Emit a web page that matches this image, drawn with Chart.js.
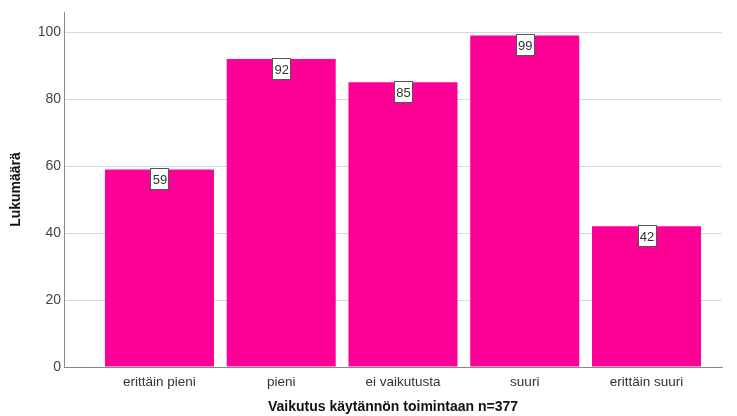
<!DOCTYPE html>
<html><head><meta charset="utf-8">
<script src="https://cdn.jsdelivr.net/npm/chart.js@4"></script>
<style>html,body{margin:0;padding:0;background:#fff}#c{display:block}</style>
</head><body>
<canvas id="c" width="737" height="416"></canvas>
<script>
const categories = ["erittäin pieni","pieni","ei vaikutusta","suuri","erittäin suuri"];
const counts = [59, 92, 85, 99, 42];
const yTicks = [0, 20, 40, 60, 80, 100];
const xTitle = "Vaikutus käytännön toimintaan n=377";
const yTitle = "Lukumäärä";

const FONT = "'Liberation Sans', Arial, sans-serif";
const points = counts.map((v,i)=>({x:i,y:v}));

const labelPlugin = {
  id:'boxLabels',
  afterDatasetsDraw(chart){
    const ctx = chart.ctx;
    const meta = chart.getDatasetMeta(0);
    ctx.save();
    ctx.font = "13px " + FONT;
    ctx.textAlign = 'center';
    ctx.textBaseline = 'middle';
    meta.data.forEach((el,i)=>{
      const txt = String(counts[i]);
      const w = Math.round(ctx.measureText(txt).width) + 4;
      const h = 21;
      const x = Math.round(el.x - w/2) + 0.5;
      const y = Math.round(el.y) - 0.5;
      ctx.fillStyle = '#fff';
      ctx.fillRect(x, y, w, h);
      ctx.strokeStyle = '#555';
      ctx.lineWidth = 1;
      ctx.strokeRect(x, y, w, h);
      ctx.fillStyle = '#333';
      ctx.fillText(txt, el.x + 0.5, y + h/2 + 1);
    });
    ctx.restore();
  }
};

new Chart(document.getElementById('c'), {
  type:'bar',
  data:{ datasets:[{ data: points, backgroundColor:'#FF0096', borderWidth:0,
    barPercentage:0.9, categoryPercentage:0.995 }] },
  options:{
    responsive:false, animation:false, devicePixelRatio:1,
    layout:{ padding:{ top:12, right:15, left:8, bottom:0 } },
    plugins:{ legend:{display:false}, tooltip:{enabled:false} },
    scales:{
      x:{
        type:'linear', min:-0.784, max:4.62, offset:false,
        afterBuildTicks(s){ s.ticks = categories.map((c,i)=>({value:i})); },
        afterFit(s){ s.height = 49; },
        ticks:{ callback:(v)=>categories[v] ?? '', color:'#333', font:{family:FONT,size:13.5}, padding:7, maxRotation:0, autoSkip:false },
        grid:{ display:false, drawTicks:false },
        border:{ display:true, color:'#888', width:1 },
        title:{ display:true, text:xTitle, color:'#111', font:{family:FONT,size:14,weight:'bold'}, padding:{top:6,bottom:0} }
      },
      y:{
        min:0, max:106,
        afterBuildTicks(s){ s.ticks = yTicks.map(v=>({value:v})); },
        afterFit(s){ s.width = 56; },
        ticks:{ color:'#444', font:{family:FONT,size:14}, padding:3 },
        grid:{ color:'#d9d9d9', lineWidth:1, drawTicks:false },
        border:{ display:true, color:'#888', width:1 },
        title:{ display:true, text:yTitle, color:'#111', font:{family:FONT,size:14,weight:'bold'}, padding:{top:0,bottom:4} }
      }
    }
  },
  plugins:[labelPlugin]
});
</script>
</body></html>
